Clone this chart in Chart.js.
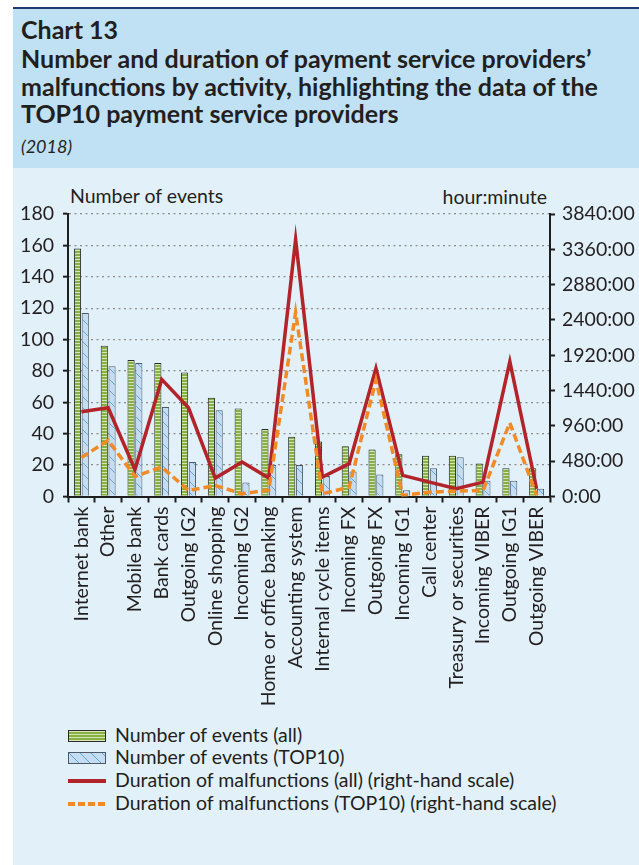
<!DOCTYPE html>
<html>
<head>
<meta charset="utf-8">
<script src="https://cdn.jsdelivr.net/npm/chart.js@4.4.1/dist/chart.umd.min.js"></script>
<style>
html,body{margin:0;padding:0;background:#ffffff;}
body{width:639px;height:865px;position:relative;overflow:hidden;font-family:Lato,"Noto Sans",sans-serif;color:#231f20;}
#topline{position:absolute;left:13px;top:7px;width:626px;height:2px;background:#1c3a6e;}
#header{position:absolute;left:13px;top:9px;width:626px;height:159px;background:#bfe1f3;}
#panel{position:absolute;left:13px;top:168px;width:626px;height:697px;background:#e2f1f9;}
.tl{position:absolute;left:21px;white-space:nowrap;font-weight:bold;font-size:25px;line-height:1;}
.sub{position:absolute;left:21px;white-space:nowrap;font-style:italic;font-size:18px;line-height:1;}
.axt{position:absolute;white-space:nowrap;font-size:19.5px;line-height:1;}
#wrap{position:absolute;left:10px;top:170px;width:629px;height:550px;}
.lg{position:absolute;left:115px;white-space:nowrap;font-size:19.5px;line-height:1;}
.sw{position:absolute;left:67px;}
</style>
</head>
<body>
<div id="topline"></div>
<div id="header"></div>
<div id="panel"></div>
<div class="tl" style="top:17px">Chart 13</div>
<div class="tl" style="top:46px">Number and duration of payment service providers’</div>
<div class="tl" style="top:74px">malfunctions by activity, highlighting the data of the</div>
<div class="tl" style="top:101px">TOP10 payment service providers</div>
<div class="sub" style="top:137px">(2018)</div>
<div class="axt" style="left:70px;top:186px">Number of events</div>
<div class="axt" style="right:92px;top:187px">hour:minute</div>
<div id="wrap"><canvas id="c" width="629" height="550"></canvas></div>
<div id="legend"></div>
<script>
// ---- data ----
const categories = ["Internet bank","Other","Mobile bank","Bank cards","Outgoing IG2","Online shopping","Incoming IG2","Home or office banking","Accounting system","Internal cycle items","Incoming FX","Outgoing FX","Incoming IG1","Call center","Treasury or securities","Incoming VIBER","Outgoing IG1","Outgoing VIBER"];
const eventsAll   = [158, 96, 87, 85, 79, 63, 56, 43, 38, 35, 32, 30, 27, 26, 26, 21, 18, 18];
const eventsTop10 = [117, 83, 85, 57, 22, 55,  9, 20, 20, 13, 16, 14,  4, 18, 25, 10, 10,  5];
// durations in hours
const durationAll   = [1151, 1206, 364, 1592, 1206, 250, 469, 250, 3494, 264, 446, 1743, 287, 196, 105, 196, 1834, 105];
const durationTop10 = [528, 764, 273, 400, 82, 150, 36, 90, 2503, 36, 127, 1583, 14, 59, 73, 82, 1001, 14];
const leftMax = 180, leftStep = 20;
const rightMax = 3840, rightStep = 480;
const seriesLabels = ["Number of events (all)","Number of events (TOP10)","Duration of malfunctions (all) (right-hand scale)","Duration of malfunctions (TOP10) (right-hand scale)"];

// ---- patterns ----
function greenPattern(ctx){
  const p=document.createElement('canvas');p.width=4;p.height=3;
  const g=p.getContext('2d');
  g.fillStyle='#d3e6b4';g.fillRect(0,0,4,3);
  g.fillStyle='#86b041';g.fillRect(0,0,4,2);
  return ctx.createPattern(p,'repeat');
}
function bluePattern(ctx){
  const s=11;
  const p=document.createElement('canvas');p.width=s;p.height=s;
  const g=p.getContext('2d');
  g.fillStyle='#c5ddf2';g.fillRect(0,0,s,s);
  g.strokeStyle='#62a7dc';g.lineWidth=1;
  g.beginPath();
  g.moveTo(-1,-1);g.lineTo(s+1,s+1);
  g.moveTo(-1-s,-1);g.lineTo(1,s+1);
  g.moveTo(s-1,-1);g.lineTo(2*s+1,s+1);
  g.stroke();
  return ctx.createPattern(p,'repeat');
}

const RED='#b2232a', ORANGE='#f28a26', INK='#231f20', AX='#1e1e1e';
const FS=19.5;

function build(){
  Chart.defaults.font.family='Lato, "Noto Sans", sans-serif';
  Chart.defaults.color=INK;
  const cv=document.getElementById('c');
  const ctx=cv.getContext('2d');
  const gp=greenPattern(ctx), bp=bluePattern(ctx);
  new Chart(ctx,{
    type:'bar',
    data:{labels:categories,datasets:[
      {type:'line',label:seriesLabels[3],data:durationTop10,yAxisID:'yR',borderColor:ORANGE,backgroundColor:ORANGE,borderWidth:3.5,borderDash:[8,4],pointRadius:0,tension:0,fill:false,order:0,borderJoinStyle:'miter'},
      {type:'line',label:seriesLabels[2],data:durationAll,yAxisID:'yR',borderColor:RED,backgroundColor:RED,borderWidth:3.5,pointRadius:0,tension:0,fill:false,order:1,borderJoinStyle:'miter'},
      {label:seriesLabels[0],data:eventsAll,yAxisID:'y',backgroundColor:gp,borderColor:'#2b2b2b',borderWidth:1,order:2,categoryPercentage:0.58,barPercentage:0.92},
      {label:seriesLabels[1],data:eventsTop10,yAxisID:'y',backgroundColor:bp,borderColor:'#4d5966',borderWidth:1,order:3,categoryPercentage:0.58,barPercentage:0.92}
    ]},
    options:{
      responsive:false,animation:false,
      layout:{padding:{top:44,left:0,right:0,bottom:0}},
      plugins:{legend:{display:false},tooltip:{enabled:false},title:{display:false}},
      scales:{
        x:{offset:true,
           grid:{offset:true,drawOnChartArea:false,drawTicks:true,tickLength:6,tickColor:AX,tickWidth:2,color:AX},
           border:{color:AX,width:2},
           ticks:{minRotation:90,maxRotation:90,autoSkip:false,font:{size:FS},color:INK,padding:4},
           afterFit(s){s.height=223.5;}},
        y:{position:'left',min:0,max:leftMax,
           ticks:{stepSize:leftStep,font:{size:FS},color:INK,padding:9},
           grid:{color:c=>c.tick&&c.tick.value===0?'rgba(0,0,0,0)':'#8c8c8c',lineWidth:1.3,tickColor:AX,tickLength:5,tickWidth:2},
           border:{color:AX,width:2,dash:[2,3.5]},
           afterFit(s){s.width=58;}},
        yR:{position:'right',min:0,max:rightMax,
           ticks:{stepSize:rightStep,font:{size:FS},color:INK,padding:7,callback:v=>v+':00'},
           grid:{drawOnChartArea:false,tickColor:AX,tickLength:5,tickWidth:2},
           border:{color:AX,width:2},
           afterFit(s){s.width=89;}}
      }
    }
  });

  // legend (HTML)
  const lg=document.getElementById('legend');
  const centers=[735.5,758,781,803.5];
  seriesLabels.forEach((t,i)=>{
    const sw=document.createElement('canvas');sw.width=40;sw.height=14;sw.className='sw';
    sw.style.top=(centers[i]-7)+'px';
    const g=sw.getContext('2d');
    if(i===0||i===1){
      g.fillStyle=i===0?greenPattern(g):bluePattern(g);
      g.fillRect(1,1,38,12);
      g.strokeStyle=i===0?'#2b2b2b':'#4d5966';g.lineWidth=1;g.strokeRect(1.5,1.5,37,11);
    }else{
      g.strokeStyle=i===2?RED:ORANGE;g.lineWidth=4;
      if(i===3)g.setLineDash([7,3]);
      g.beginPath();g.moveTo(1,7);g.lineTo(39,7);g.stroke();
    }
    lg.appendChild(sw);
    const d=document.createElement('div');d.className='lg';d.textContent=t;
    d.style.top=(centers[i]-11)+'px';
    lg.appendChild(d);
  });
}
if(document.fonts&&document.fonts.load){
  Promise.all([document.fonts.load('19.5px Lato'),document.fonts.load('bold 25px Lato'),document.fonts.load('italic 18px Lato')]).then(build,build);
}else build();
</script>
</body>
</html>
